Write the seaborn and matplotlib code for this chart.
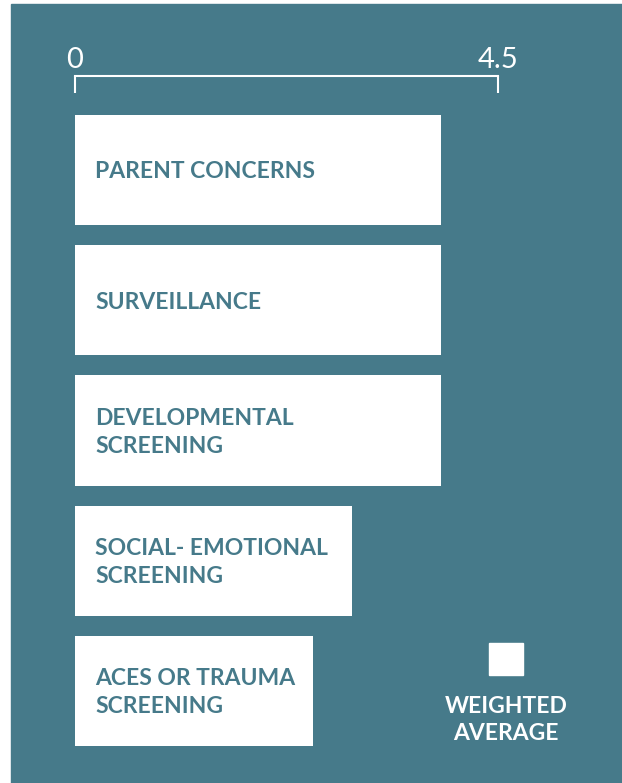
import matplotlib.pyplot as plt
import seaborn as sns
import pandas as pd
from matplotlib.patches import Rectangle

sns.set_theme(style="white")
plt.rcParams['font.family'] = ['Lato', 'DejaVu Sans']

# data
categories = ["PARENT CONCERNS", "SURVEILLANCE", "DEVELOPMENTAL\nSCREENING",
              "SOCIAL- EMOTIONAL\nSCREENING", "ACES OR TRAUMA\nSCREENING"]
weighted_avg = [3.89, 3.89, 3.89, 2.95, 2.53]
tick_values = [0, 4.5]
tick_labels = ["0", "4.5"]

teal = "#467a8a"
W, H = 622, 783

df = pd.DataFrame({"Category": categories, "Weighted average": weighted_avg})

fig = plt.figure(figsize=(W / 100, H / 100), dpi=100, facecolor="white")
# teal panel
fig.patches.append(Rectangle((11 / W, 0), 1 - 11 / W, 1 - 4 / H,
                             transform=fig.transFigure, color=teal, zorder=-10))

# axes: x 0 -> px 75, 4.5 -> px 498 ; y top px 76, bottom px 756
ax = fig.add_axes([75 / W, 1 - 756 / H, 423 / W, 680 / H])
ax.set_facecolor("none")
sns.barplot(data=df, x="Weighted average", y="Category", color="white",
            saturation=1, width=0.846, ax=ax, linewidth=0)

ax.set_xlim(0, 4.5)
ax.set_ylim(4.5, -0.722)
ax.set_xlabel("")
ax.set_ylabel("")
ax.set_yticks([])
for s in ["left", "right", "bottom"]:
    ax.spines[s].set_visible(False)
ax.spines["top"].set_color("white")
ax.spines["top"].set_linewidth(1.5)
ax.xaxis.tick_top()
ax.set_xticks(tick_values)
ax.set_xticklabels(tick_labels)
ax.tick_params(axis="x", direction="in", length=12, width=1.5, color="white",
               labelcolor="white", labelsize=21, pad=2)

# labels inside bars
for i, lab in enumerate(categories):
    ax.text(0.213, i + 0.015, lab, color=teal, fontsize=16.5, fontweight="bold",
            va="center", ha="left", linespacing=1.42)

# legend
fig.patches.append(Rectangle((489 / W, 1 - 675 / H), 34 / W, 32 / H,
                             transform=fig.transFigure, color="white"))
fig.text(506 / W, 1 - 720 / H, "WEIGHTED\nAVERAGE", color="white",
         fontsize=16.5, fontweight="bold", ha="center", va="center",
         linespacing=1.35)

fig.savefig("out.png", dpi=100)
plt.close()
